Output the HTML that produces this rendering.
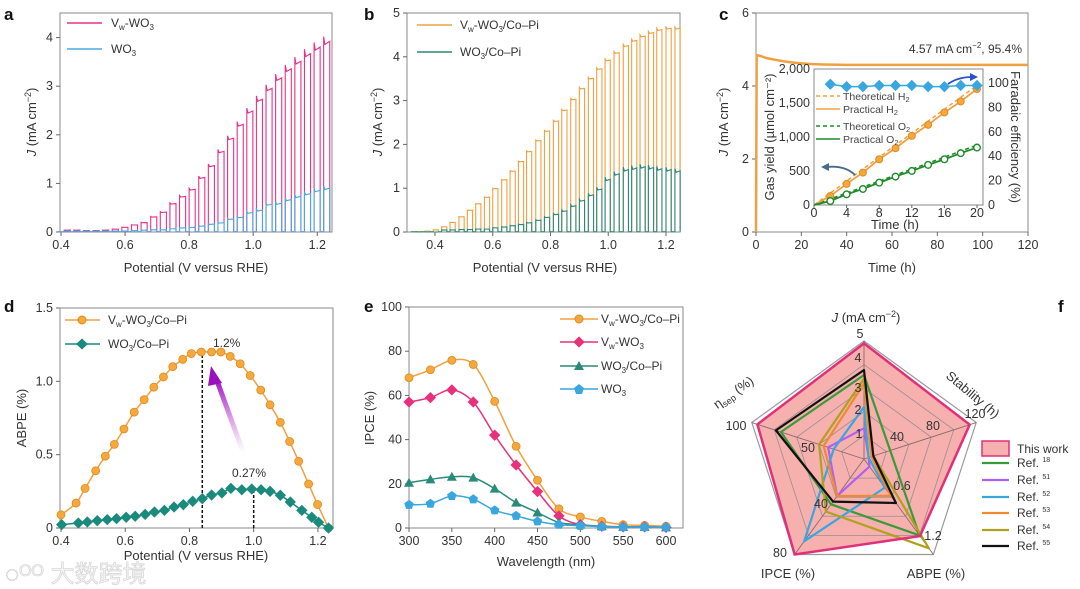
<!DOCTYPE html>
<html><head><meta charset="utf-8"><style>
html,body{margin:0;padding:0;background:#fff;}
svg{display:block;font-family:"Liberation Sans","Noto Sans CJK SC",sans-serif;}
.tk{font-size:12.5px;fill:#333;}
.lab{font-size:13px;fill:#333;}
.lg{font-size:12px;fill:#333;}
.pl{font-size:17px;font-weight:bold;fill:#111;}
</style></head><body>
<svg id="fig" width="1080" height="589" viewBox="0 0 1080 589">
<defs>
<linearGradient id="pg" x1="0" y1="1" x2="0" y2="0"><stop offset="0" stop-color="#c040d0" stop-opacity="0"/><stop offset="1" stop-color="#9a10c0"/></linearGradient>
</defs>
<text class="pl" x="4" y="20">a</text>
<text class="pl" x="364" y="20">b</text>
<text class="pl" x="719" y="20">c</text>
<text class="pl" x="4" y="312">d</text>
<text class="pl" x="364" y="312">e</text>
<text class="pl" x="1058" y="312">f</text>

<text class="lab" x="196" y="272" text-anchor="middle">Potential (V versus RHE)</text>
<text class="lab" transform="translate(36,122) rotate(-90)" text-anchor="middle"><tspan font-style="italic">J</tspan> (mA cm<tspan dy="-5" font-size="9">−2</tspan><tspan dy="5">)</tspan></text>
<text class="lab" x="545" y="272" text-anchor="middle">Potential (V versus RHE)</text>
<text class="lab" transform="translate(382,122) rotate(-90)" text-anchor="middle"><tspan font-style="italic">J</tspan> (mA cm<tspan dy="-5" font-size="9">−2</tspan><tspan dy="5">)</tspan></text>
<text class="lab" x="892" y="272" text-anchor="middle">Time (h)</text>
<text class="lab" transform="translate(728,122) rotate(-90)" text-anchor="middle"><tspan font-style="italic">J</tspan> (mA cm<tspan dy="-5" font-size="9">−2</tspan><tspan dy="5">)</tspan></text>
<text class="lab" x="196" y="560" text-anchor="middle">Potential (V versus RHE)</text>
<text class="lab" transform="translate(26,418) rotate(-90)" text-anchor="middle">ABPE (%)</text>
<text class="lab" x="546" y="566" text-anchor="middle">Wavelength (nm)</text>
<text class="lab" transform="translate(374,418) rotate(-90)" text-anchor="middle">IPCE (%)</text>

<line x1="67" y1="23" x2="102" y2="23" stroke="#e6338a" stroke-width="1.5"/>
<text class="lg" x="111" y="27">V<tspan font-size="8" dy="3">w</tspan><tspan dy="-3">-WO</tspan><tspan font-size="8" dy="3">3</tspan></text>
<line x1="67" y1="49" x2="102" y2="49" stroke="#4aa8e0" stroke-width="1.5"/>
<text class="lg" x="111" y="53">WO<tspan font-size="8" dy="3">3</tspan></text>
<line x1="417" y1="25" x2="452" y2="25" stroke="#f0a040" stroke-width="1.5"/>
<text class="lg" x="460" y="29">V<tspan font-size="8" dy="3">w</tspan><tspan dy="-3">-WO</tspan><tspan font-size="8" dy="3">3</tspan><tspan dy="-3">/Co–Pi</tspan></text>
<line x1="417" y1="52" x2="452" y2="52" stroke="#2a8a7a" stroke-width="1.5"/>
<text class="lg" x="460" y="56">WO<tspan font-size="8" dy="3">3</tspan><tspan dy="-3">/Co–Pi</tspan></text>
<text class="lg" x="1022" y="53" text-anchor="end">4.57 mA cm<tspan dy="-5" font-size="8">−2</tspan><tspan dy="5">, 95.4%</tspan></text>
<line x1="65" y1="320" x2="100" y2="320" stroke="#f0a040" stroke-width="1.5"/>
<circle cx="82" cy="320" r="4" fill="#f5a83c" stroke="#e08a20"/>
<text class="lg" x="108" y="324">V<tspan font-size="8" dy="3">w</tspan><tspan dy="-3">-WO</tspan><tspan font-size="8" dy="3">3</tspan><tspan dy="-3">/Co–Pi</tspan></text>
<line x1="65" y1="344" x2="100" y2="344" stroke="#1a8a7c" stroke-width="1.5"/>
<rect x="78" y="340" width="8" height="8" transform="rotate(45 82 344)" fill="#1a8a7c"/>
<text class="lg" x="108" y="348">WO<tspan font-size="8" dy="3">3</tspan><tspan dy="-3">/Co–Pi</tspan></text>
<g>
<line x1="560" y1="319" x2="598" y2="319" stroke="#f0a040" stroke-width="1.5"/><circle cx="579" cy="319" r="4" fill="#f5a83c" stroke="#e08a20"/>
<text class="lg" x="601" y="323">V<tspan font-size="8" dy="3">w</tspan><tspan dy="-3">-WO</tspan><tspan font-size="8" dy="3">3</tspan><tspan dy="-3">/Co–Pi</tspan></text>
<line x1="560" y1="342" x2="598" y2="342" stroke="#e8307c" stroke-width="1.5"/><rect x="575" y="338" width="8" height="8" transform="rotate(45 579 342)" fill="#e8307c"/>
<text class="lg" x="601" y="346">V<tspan font-size="8" dy="3">w</tspan><tspan dy="-3">-WO</tspan><tspan font-size="8" dy="3">3</tspan></text>
<line x1="560" y1="366" x2="598" y2="366" stroke="#2a8a7a" stroke-width="1.5"/><polygon points="579,361 584,370 574,370" fill="#2a8a7a"/>
<text class="lg" x="601" y="370">WO<tspan font-size="8" dy="3">3</tspan><tspan dy="-3">/Co–Pi</tspan></text>
<line x1="560" y1="389" x2="598" y2="389" stroke="#3aa6e0" stroke-width="1.5"/><polygon points="579,384 584,388 582,394 576,394 574,388" fill="#3aa6e0"/>
<text class="lg" x="601" y="393">WO<tspan font-size="8" dy="3">3</tspan></text>
</g>
<g class="lab">
<text x="866" y="322" text-anchor="middle"><tspan font-style="italic">J</tspan> (mA cm<tspan dy="-5" font-size="9">−2</tspan><tspan dy="5">)</tspan></text>
<text transform="translate(970,398) rotate(40)" text-anchor="middle">Stability (h)</text>
<text x="788" y="578" text-anchor="middle">IPCE (%)</text>
<text x="936" y="578" text-anchor="middle">ABPE (%)</text>
<text transform="translate(736,396) rotate(-35)" text-anchor="middle">η<tspan font-size="9" dy="3">sep</tspan><tspan dy="-3"> (%)</tspan></text>
</g>
<g class="lg">
<rect x="982" y="441" width="27" height="15" fill="#f6b0ae" stroke="#e0307a" stroke-width="1.5"/>
<text x="1017" y="453">This work</text>
</g>
<text x="5" y="582" font-size="24" fill="#f4f4f4" stroke="#d0d0d0" stroke-width="0.6">◌ᴼᴼ 大数跨境</text>
</svg>
<script>
const aPulseV=[0.41,0.44,0.47,0.50,0.53,0.56,0.59,0.62,0.65,0.68,0.71,0.74,0.77,0.80,0.83,0.86,0.89,0.92,0.95,0.98,1.01,1.04,1.07,1.10,1.13,1.16,1.19,1.22];
const aVwWO3=[0.04,0.04,0.03,0.03,0.04,0.06,0.1,0.15,0.2,0.32,0.42,0.6,0.75,0.9,1.15,1.4,1.7,1.98,2.27,2.55,2.8,3.03,3.25,3.44,3.6,3.76,3.9,4.02];
const aWO3=[0.02,0.02,0.02,0.02,0.02,0.02,0.02,0.03,0.04,0.05,0.05,0.07,0.09,0.1,0.13,0.17,0.2,0.28,0.32,0.42,0.47,0.6,0.62,0.7,0.77,0.83,0.9,0.95];
const aXTicks=[0.4,0.6,0.8,1.0,1.2];
const aYTicks=[0,1,2,3,4];
const bPulseV=[0.336,0.365,0.394,0.423,0.452,0.483,0.512,0.541,0.571,0.600,0.631,0.660,0.689,0.717,0.749,0.779,0.810,0.839,0.870,0.900,0.931,0.960,0.989,1.020,1.052,1.081,1.110,1.139,1.168,1.200,1.231];
const bVwCoPi=[0.01,0.02,0.05,0.12,0.22,0.35,0.5,0.65,0.8,1.0,1.2,1.4,1.62,1.85,2.1,2.32,2.55,2.8,3.05,3.3,3.53,3.75,3.95,4.12,4.28,4.4,4.5,4.58,4.65,4.68,4.68];
const bWO3CoPi=[0,0,0,0.05,0.05,0.06,0.06,0.07,0.07,0.1,0.12,0.15,0.18,0.22,0.28,0.35,0.42,0.5,0.62,0.75,0.88,1.02,1.25,1.38,1.48,1.52,1.55,1.53,1.5,1.48,1.45];
const bXTicks=[0.4,0.6,0.8,1.0,1.2];
const bYTicks=[0,1,2,3,4,5];
const cTime=[0,0.3,2,5,10,15,20,25,30,40,60,80,100,120];
const cJ=[0,4.85,4.82,4.76,4.7,4.65,4.62,4.6,4.59,4.58,4.58,4.58,4.58,4.58];
const cXTicks=[0,20,40,60,80,100,120];
const cYTicks=[0,2,4,6];
const insetT=[2,4,6,8,10,12,14,16,18,20];
const insetH2=[133,310,477,673,835,1017,1179,1361,1523,1705];
const insetO2=[59,157,236,329,418,501,590,673,762,845];
const insetFE=[99,97,97,98,98,98,97,97,98,98];
const theoT=[0,20];
const theoH2=[0,1760];
const theoO2=[0,880];
const insetXTicks=[0,4,8,12,16,20];
const insetYTicks=[0,500,1000,1500,2000];
const insetYTickLabels=['0','500','1,000','1,500','2,000'];
const insetRTicks=[0,20,40,60,80,100];
const dVwV=[0.4,0.447,0.475,0.508,0.538,0.566,0.596,0.628,0.659,0.689,0.719,0.748,0.779,0.806,0.837,0.869,0.898,0.927,0.958,0.989,1.022,1.051,1.083,1.112,1.14,1.171,1.199,1.233];
const dVwABPE=[0.09,0.17,0.27,0.39,0.49,0.57,0.675,0.79,0.875,0.96,1.03,1.1,1.15,1.19,1.2,1.2,1.2,1.17,1.12,1.04,0.94,0.84,0.72,0.59,0.455,0.3,0.16,0];
const dWV=[0.402,0.454,0.482,0.513,0.544,0.573,0.603,0.631,0.662,0.691,0.722,0.752,0.781,0.81,0.84,0.869,0.901,0.929,0.963,0.994,1.023,1.051,1.083,1.114,1.15,1.181,1.202,1.233];
const dWABPE=[0.023,0.034,0.041,0.05,0.057,0.064,0.073,0.08,0.093,0.109,0.12,0.143,0.159,0.182,0.2,0.225,0.239,0.27,0.261,0.266,0.261,0.25,0.223,0.177,0.12,0.073,0.039,0];
const dXTicks=[0.4,0.6,0.8,1.0,1.2];
const dYTicks=[0,0.5,1.0,1.5];
const dYTickLabels=['0','0.5','1.0','1.5'];
const eWave=[300,325,350,375,400,425,450,475,500,525,550,575,600];
const eVwCoPi=[68,71.6,75.9,74,57.3,37,21.6,8.7,5,3,1.5,1.2,0.8];
const eVw=[57,59,62.5,57,42,28.5,16.5,5.5,1.5,0.8,0.5,0.5,0.3];
const eWCoPi=[20.5,22,23.2,22.8,17.8,11.5,7,2.5,1.5,0.8,0.5,0.5,0.3];
const eW=[10.5,11,14.5,13,8,5.5,3,1.5,1,0.6,0.4,0.4,0.3];
const eXTicks=[300,350,400,450,500,550,600];
const eYTicks=[0,20,40,60,80,100];
const fAxes=['J','Stability','ABPE','IPCE','eta-sep'];
const fMax=[5,120,1.4,80,100];
const fThisWork=[4.9,113,1.13,80,95];
const fRef18=[3.56,28,1.12,38,74];
const fRef51=[1.3,5,0.11,31,32];
const fRef52=[2.2,5,0.42,69,27];
const fRef53=[3.2,8,0.54,31,36];
const fRef54=[3.4,10,1.31,44,40];
const fRef55=[3.77,10,0.645,35.7,78.5];

const NS='http://www.w3.org/2000/svg';
const svg=document.getElementById('fig');
function mk(tag,attrs,parent){const e=document.createElementNS(NS,tag);for(const k in attrs)e.setAttribute(k,attrs[k]);(parent||svg).appendChild(e);return e;}
function lin(d0,d1,r0,r1){return v=>r0+(v-d0)*(r1-r0)/(d1-d0);}

function axes(name,x0,x1,y0,y1,xs,ys,xt,yt,xl,yl,opts){
  opts=opts||{};
  const fr=mk('rect',{x:x0,y:y1,width:x1-x0,height:y0-y1,fill:'none',stroke:'#8a8a8a','stroke-width':1});
  
  
  xt.forEach((v,i)=>{
    const x=xs(v);
    const t=mk('line',{x1:x,x2:x,y1:y0,y2:y0+4,stroke:'#666'});
    
    
    const l=mk('text',{x:x,y:y0+17,'text-anchor':'middle',class:'tk'});
    l.textContent=xl?xl[i]:String(v===0?0:v.toFixed(opts.xd||0));
    
    
  });
  yt.forEach((v,i)=>{
    const y=ys(v);
    const t=mk('line',{x1:x0-4,x2:x0,y1:y,y2:y,stroke:'#666'});
    
    
    const l=mk('text',{x:x0-7,y:y+4,'text-anchor':'end',class:'tk'});
    l.textContent=yl?yl[i]:String(v);
    
    
  });
}
function chopPath(xs,ys,V,H,w,decay){
  let d='M'+xs(V[0]-0.02)+','+ys(0.005);
  V.forEach((v,i)=>{
    const h=H[i];
    d+=' L'+xs(v)+','+ys(0.005)+' L'+xs(v)+','+ys(h)+' L'+(xs(v)+1.2)+','+ys(h*(1-decay))+' L'+xs(v+w)+','+ys(h*(1-decay*0.6))+' L'+xs(v+w)+','+ys(0.005);
  });
  return d;
}
function smooth(pts){
  let d='M'+pts[0][0]+','+pts[0][1];
  for(let i=0;i<pts.length-1;i++){
    const p0=pts[i-1]||pts[i],p1=pts[i],p2=pts[i+1],p3=pts[i+2]||p2;
    const c1=[p1[0]+(p2[0]-p0[0])/6,p1[1]+(p2[1]-p0[1])/6];
    const c2=[p2[0]-(p3[0]-p1[0])/6,p2[1]-(p3[1]-p1[1])/6];
    d+=' C'+c1+' '+c2+' '+p2;
  }
  return d;
}
function marker(type,x,y,col,name){
  let e;
  if(type==='circle') e=mk('circle',{cx:x,cy:y,r:4,fill:'#f5a83c',stroke:'#e08a20','stroke-width':0.8});
  else if(type==='diamond') e=mk('rect',{x:x-4,y:y-4,width:8,height:8,fill:col,transform:'rotate(45 '+x+' '+y+')'});
  else if(type==='tri') e=mk('polygon',{points:(x)+','+(y-5)+' '+(x+5)+','+(y+4)+' '+(x-5)+','+(y+4),fill:col});
  else if(type==='pent') e=mk('polygon',{points:[0,1,2,3,4].map(k=>{const a=(-90+72*k)*Math.PI/180;return (x+5*Math.cos(a))+','+(y+5*Math.sin(a));}).join(' '),fill:col});
  else if(type==='odot') e=mk('circle',{cx:x,cy:y,r:3.3,fill:'#fff',stroke:col,'stroke-width':1.4});
  else if(type==='ocirc') e=mk('circle',{cx:x,cy:y,r:3.5,fill:'#f5a83c',stroke:col,'stroke-width':1});
  
  
  return e;
}

{
const xs=lin(0.4,1.246,61,332), ys=lin(0,4.5,232,13.3);
axes('a',60,332,232,13,xs,ys,aXTicks,aYTicks,null,null,{xd:1});
const p1=mk('path',{d:chopPath(xs,ys,aPulseV,aVwWO3,0.019,0.04),fill:'none',stroke:'#e6338a','stroke-width':1.1});


const p2=mk('path',{d:chopPath(xs,ys,aPulseV,aWO3,0.019,0.08),fill:'none',stroke:'#4aa8e0','stroke-width':1.1});


}
{
const xs=lin(0.4,1.2,435,666), ys=lin(0,5,232,13);
axes('b',407,680,232,13,xs,ys,bXTicks,bYTicks,null,null,{xd:1});
const p1=mk('path',{d:chopPath(xs,ys,bPulseV,bVwCoPi,0.018,0.01),fill:'none',stroke:'#f0a040','stroke-width':1.1});


const p2=mk('path',{d:chopPath(xs,ys,bPulseV,bWO3CoPi,0.018,0.06),fill:'none',stroke:'#2a8a7a','stroke-width':1.1});


}
{
const xs=lin(0,120,756,1028), ys=lin(0,6,232,13);
axes('c',756,1028,232,13,xs,ys,cXTicks,cYTicks);
const p=mk('path',{d:'M'+cTime.map((t,i)=>xs(t)+','+ys(cJ[i])).join(' L'),fill:'none',stroke:'#f0a040','stroke-width':2.5});


const bg=mk('rect',{x:814,y:69,width:169,height:136,fill:'#fff'});


const ix=lin(0,20,814,977), iy=lin(0,2000,205,69), ir=lin(0,100,205,83);
const fr=mk('rect',{x:814,y:69,width:169,height:136,fill:'none',stroke:'#8a8a8a'});


insetXTicks.forEach(v=>{
  const t=mk('text',{x:ix(v),y:217,'text-anchor':'middle',class:'tk','font-size':11});t.textContent=v;
  
  
  const l=mk('line',{x1:ix(v),x2:ix(v),y1:205,y2:208,stroke:'#666'});
  
  
});
insetYTicks.forEach((v,i)=>{
  const t=mk('text',{x:810,y:iy(v)+4,'text-anchor':'end',class:'tk','font-size':11});t.textContent=insetYTickLabels[i];
  
  
});
insetRTicks.forEach(v=>{
  const t=mk('text',{x:988,y:ir(v)+4,class:'tk','font-size':11});t.textContent=v;
  
  
});
const tx=mk('text',{x:895,y:229,'text-anchor':'middle',class:'lab','font-size':12});tx.textContent='Time (h)';


const ty=mk('text',{transform:'translate(774,137) rotate(-90)','text-anchor':'middle',class:'lab','font-size':12});ty.textContent='Gas yield (µmol cm⁻²)';


const tr=mk('text',{transform:'translate(1011,137) rotate(90)','text-anchor':'middle',class:'lab','font-size':12});tr.textContent='Faradaic efficiency (%)';


const th=mk('path',{d:'M'+ix(theoT[0])+','+iy(theoH2[0])+' L'+ix(theoT[1])+','+iy(theoH2[1]),stroke:'#f0a040','stroke-dasharray':'4 3','stroke-width':1.5,fill:'none'});


const to=mk('path',{d:'M'+ix(theoT[0])+','+iy(theoO2[0])+' L'+ix(theoT[1])+','+iy(theoO2[1]),stroke:'#1f8a2a','stroke-dasharray':'4 3','stroke-width':1.5,fill:'none'});


const ph=mk('path',{d:'M'+ix(0)+','+iy(0)+' L'+insetT.map((t,i)=>ix(t)+','+iy(insetH2[i])).join(' L'),stroke:'#f0a040','stroke-width':1.8,fill:'none'});


const po=mk('path',{d:'M'+ix(0)+','+iy(0)+' L'+insetT.map((t,i)=>ix(t)+','+iy(insetO2[i])).join(' L'),stroke:'#1f8a2a','stroke-width':1.8,fill:'none'});


insetT.forEach((t,i)=>{
  marker('ocirc',ix(t),iy(insetH2[i]),'#e08a20','inset-h2-point');
  marker('odot',ix(t),iy(insetO2[i]),'#1f8a2a','inset-o2-point');
});
const pf=mk('path',{d:'M'+insetT.map((t,i)=>ix(t)+','+ir(insetFE[i])).join(' L'),stroke:'#3aa6e0','stroke-width':1.5,fill:'none'});


insetT.forEach((t,i)=>marker('diamond',ix(t),ir(insetFE[i]),'#3aa6e0','inset-fe-point'));
const lg=[['Theoretical H','2','#f0a040',true,96],['Practical H','2','#f0a040',false,109],['Theoretical O','2','#1f8a2a',true,126],['Practical O','2','#1f8a2a',false,139]];
lg.forEach(r=>{
  const l=mk('line',{x1:816,x2:840,y1:r[4],y2:r[4],stroke:r[2],'stroke-width':1.6,'stroke-dasharray':r[3]?'4 3':'none'});
  
  
  const t=mk('text',{x:843,y:r[4]+4,'font-size':10.5,fill:'#444'});
  t.textContent=r[0];
  
  
  const s=mk('tspan',{'font-size':7.5,dy:2},t);s.textContent=r[1];
});
const a1=mk('path',{d:'M855,175 Q845,165 826,167',stroke:'#4a6a8a','stroke-width':1.8,fill:'none'});


const a1h=mk('polygon',{points:'821,167 829,163 829,171',fill:'#4a6a8a'});


const a2=mk('path',{d:'M948,84 Q958,77 972,77',stroke:'#2a50d0','stroke-width':1.8,fill:'none'});


const a2h=mk('polygon',{points:'978,77 970,73 970,81',fill:'#2a50d0'});


}
{
const xs=lin(0.4,1.247,61,333), ys=lin(0,1.5,528,308);
axes('d',60,333,528,308,xs,ys,dXTicks,dYTicks,null,dYTickLabels,{xd:1});
const v1=mk('line',{x1:xs(0.84),x2:xs(0.84),y1:ys(0),y2:ys(1.2),stroke:'#111','stroke-width':1.5,'stroke-dasharray':'3 2'});


const v2=mk('line',{x1:xs(1.0),x2:xs(1.0),y1:ys(0),y2:ys(0.27),stroke:'#111','stroke-width':1.5,'stroke-dasharray':'3 2'});


const c1=mk('path',{d:smooth(dVwV.map((v,i)=>[xs(v),ys(dVwABPE[i])])),fill:'none',stroke:'#f0a040','stroke-width':1.5});


dVwV.forEach((v,i)=>marker('circle',xs(v),ys(dVwABPE[i]),'#f5a83c','d-point-vw'));
const c2=mk('path',{d:smooth(dWV.map((v,i)=>[xs(v),ys(dWABPE[i])])),fill:'none',stroke:'#1a8a7c','stroke-width':1.5});


dWV.forEach((v,i)=>marker('diamond',xs(v),ys(dWABPE[i]),'#1a8a7c','d-point-wo3'));
const ar=mk('path',{d:'M243,452 L216,378',stroke:'url(#pg)','stroke-width':5,fill:'none'});


const ah=mk('polygon',{points:'211,366 222,383 208,386',fill:'#9a10c0'});


const t1=mk('text',{x:213,y:347,class:'lg'});t1.textContent='1.2%';


const t2=mk('text',{x:232,y:477,class:'lg'});t2.textContent='0.27%';


}
{
const xs=lin(300,600,409,666), ys=lin(0,100,528,307);
axes('e',409,683,528,307,xs,ys,eXTicks,eYTicks);
const sets=[[eVwCoPi,'#f0a040','circle','vw-wo3-copi'],[eVw,'#e8307c','diamond','vw-wo3'],[eWCoPi,'#2a8a7a','tri','wo3-copi'],[eW,'#3aa6e0','pent','wo3']];
sets.forEach(s=>{
  const p=mk('path',{d:smooth(eWave.map((w,i)=>[xs(w),ys(s[0][i])])),fill:'none',stroke:s[1],'stroke-width':1.5});
  
  
  eWave.forEach((w,i)=>marker(s[2],xs(w),ys(s[0][i]),s[1],'e-point-'+s[3]));
});
}
{
const cx=864, cy=459, R=118;
const ang=[-90,-18,54,126,198].map(a=>a*Math.PI/180);
const pt=(k,f)=>[cx+R*f*Math.cos(ang[k]),cy+R*f*Math.sin(ang[k])];
const poly=vals=>vals.map((v,k)=>pt(k,v/fMax[k]).join(',')).join(' ');
const fill=mk('polygon',{points:poly(fThisWork),fill:'#f6b0ae',stroke:'none'});


[0.2,0.4,0.6,0.8,1.0].forEach(f=>{
  const g=mk('polygon',{points:[0,1,2,3,4].map(k=>pt(k,f).join(',')).join(' '),fill:'none',stroke:'#888','stroke-width':f===1?1.2:0.8,'stroke-opacity':0.85});
  
  
});
[0,1,2,3,4].forEach(k=>{
  const p=pt(k,1);
  const l=mk('line',{x1:cx,y1:cy,x2:p[0],y2:p[1],stroke:'#8a6a6a','stroke-width':0.9});
  
  
});
const refs=[[fRef18,'#3a9a3a','ref-18'],[fRef51,'#b060f0','ref-51'],[fRef52,'#3aa6e0','ref-52'],[fRef53,'#f08a30','ref-53'],[fRef54,'#b0a020','ref-54'],[fRef55,'#111','ref-55']];
refs.forEach(r=>{
  const p=mk('polygon',{points:poly(r[0]),fill:'none',stroke:r[1],'stroke-width':2.2,'stroke-linejoin':'round'});
  
  
});
const tw=mk('polygon',{points:poly(fThisWork),fill:'none',stroke:'#e0307a','stroke-width':2.5});


const tl=[['5',860,338],['4',858,362],['3',858,392],['2',858,414],['1',859,438],['40',897,441],['80',933,430],['120',975,418],['100',736,430],['50',808,452],['40',821,508],['80',780,557],['0.6',902,490],['1.2',933,540]];
tl.forEach(t=>{
  const e=mk('text',{x:t[1],y:t[2],'text-anchor':'middle',class:'tk'});e.textContent=t[0];
  
  
});
const rl=[['18','#3a9a3a',463],['51','#b060f0',480],['52','#3aa6e0',497],['53','#f08a30',513],['54','#b0a020',530],['55','#111',546]];
rl.forEach(r=>{
  const l=mk('line',{x1:982,x2:1009,y1:r[2],y2:r[2],stroke:r[1],'stroke-width':2.2});
  
  
  const t=mk('text',{x:1017,y:r[2]+4,class:'lg'});t.textContent='Ref. ';
  
  
  const s=mk('tspan',{'font-size':7,dy:-5},t);s.textContent=r[0];
});
}
</script>
</body></html>
